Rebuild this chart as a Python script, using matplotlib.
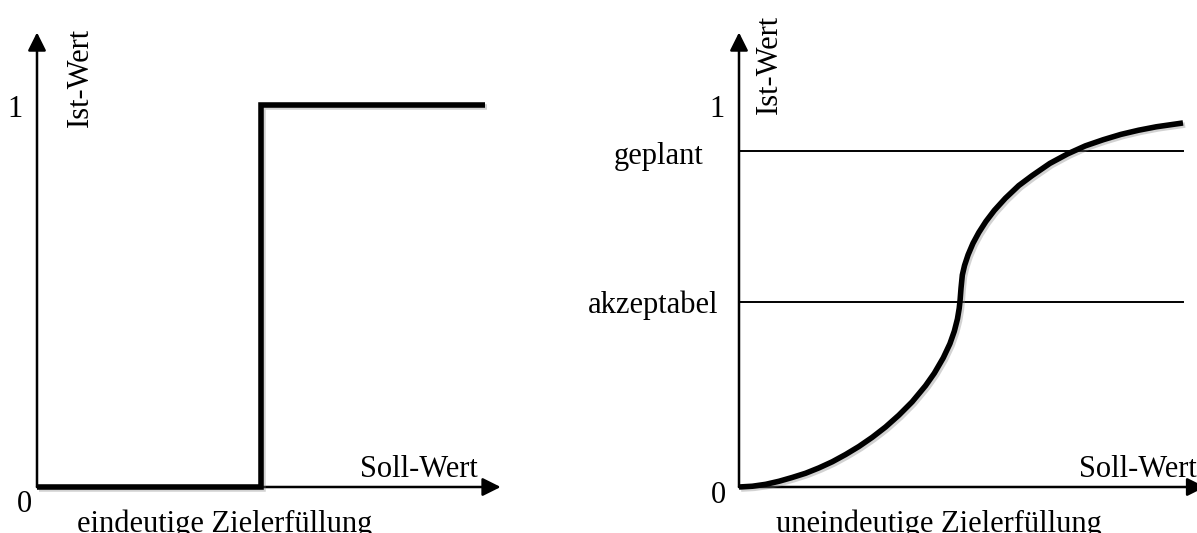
import matplotlib
matplotlib.use("Agg")
import matplotlib.pyplot as plt
import matplotlib.patheffects as pe

plt.rcParams['font.family'] = ['Liberation Serif', 'DejaVu Serif']

# ---- data ----
# left panel: unambiguous goal fulfilment (step)
step_x = [0.0, 0.5, 0.5, 1.0]
step_y = [0.0, 0.0, 1.0, 1.0]

# right panel: ambiguous goal fulfilment (S-curve)
curve_x = [0.000, 0.030, 0.060, 0.090, 0.120, 0.150, 0.180, 0.210, 0.240, 0.270,
           0.300, 0.330, 0.360, 0.390, 0.420, 0.440, 0.460, 0.475, 0.485, 0.492,
           0.496, 0.498, 0.500, 0.503, 0.508, 0.516, 0.527, 0.540, 0.556, 0.575,
           0.600, 0.630, 0.660, 0.700, 0.740, 0.780, 0.820, 0.860, 0.900, 0.940,
           0.970, 1.000]
curve_y = [0.000, 0.002, 0.007, 0.015, 0.025, 0.036, 0.050, 0.066, 0.085, 0.106,
           0.130, 0.157, 0.188, 0.223, 0.265, 0.298, 0.338, 0.375, 0.408, 0.440,
           0.468, 0.490, 0.520, 0.555, 0.580, 0.608, 0.638, 0.666, 0.695, 0.724,
           0.756, 0.789, 0.815, 0.847, 0.872, 0.893, 0.909, 0.923, 0.934, 0.943,
           0.948, 0.953]

level_values = [0.88, 0.484]
level_labels = ['geplant', 'akzeptabel']

x_label = 'Soll-Wert'
y_label = 'Ist-Wert'
titles = ['eindeutige Zielerfüllung', 'uneindeutige Zielerfüllung']

W, H = 1197, 533
fig = plt.figure(figsize=(W / 100, H / 100), dpi=100)

def px_rect(x0, x1, ytop, ybot):
    return [x0 / W, (H - ybot) / H, (x1 - x0) / W, (ybot - ytop) / H]

axL = fig.add_axes(px_rect(37, 485, 105, 487))
axR = fig.add_axes(px_rect(739, 1183, 105, 487))

shadow = [pe.SimpleLineShadow(offset=(1.5, -1.5), shadow_color='gray', alpha=0.35),
          pe.Normal()]

FS = 22
arrow_style = '-|>,head_length=0.5,head_width=0.25'

def draw_axes(ax, xtip, ytip):
    ax.set_xlim(0, 1)
    ax.set_ylim(0, 1)
    ax.axis('off')
    ax.annotate('', xy=(0, ytip), xytext=(0, 0), xycoords='data',
                arrowprops=dict(arrowstyle=arrow_style, lw=1.8, color='black',
                                mutation_scale=22, shrinkA=0, shrinkB=0),
                annotation_clip=False)
    ax.annotate('', xy=(xtip, 0), xytext=(0, 0), xycoords='data',
                arrowprops=dict(arrowstyle=arrow_style, lw=1.8, color='black',
                                mutation_scale=22, shrinkA=0, shrinkB=0),
                annotation_clip=False)

# ---- left panel ----
draw_axes(axL, 1.035, 1.19)
axL.plot(step_x, step_y, color='black', lw=4.0, solid_joinstyle='miter',
         solid_capstyle='butt', clip_on=False, path_effects=shadow, zorder=3)
axL.text(-0.049, 0.969, '1', fontsize=FS, ha='center', va='baseline')
axL.text(-0.027, -0.065, '0', fontsize=FS, ha='center', va='baseline')
axL.text(0.096, 1.071, y_label, fontsize=FS, rotation=90, ha='center', va='center')
axL.text(0.984, 0.026, x_label, fontsize=FS, ha='right', va='baseline')
axL.text(0.42, -0.118, titles[0], fontsize=FS, ha='center', va='baseline')

# ---- right panel ----
draw_axes(axR, 1.05, 1.19)
for val in level_values:
    axR.plot([0, 1], [val, val], color='black', lw=1.4, clip_on=False, zorder=2)
axR.text(-0.081, 0.866, level_labels[0], fontsize=FS, ha='right', va='center')
axR.text(-0.047, 0.476, level_labels[1], fontsize=FS, ha='right', va='center')
axR.plot(curve_x, curve_y, color='black', lw=4.0, solid_joinstyle='round',
         solid_capstyle='butt', clip_on=False, path_effects=shadow, zorder=3)
axR.text(-0.05, 0.969, '1', fontsize=FS, ha='center', va='baseline')
axR.text(-0.047, -0.042, '0', fontsize=FS, ha='center', va='baseline')
axR.text(0.0676, 1.105, y_label, fontsize=FS, rotation=90, ha='center', va='center')
axR.text(1.0315, 0.026, x_label, fontsize=FS, ha='right', va='baseline')
axR.text(0.45, -0.118, titles[1], fontsize=FS, ha='center', va='baseline')

fig.savefig('out.png', dpi=100)
